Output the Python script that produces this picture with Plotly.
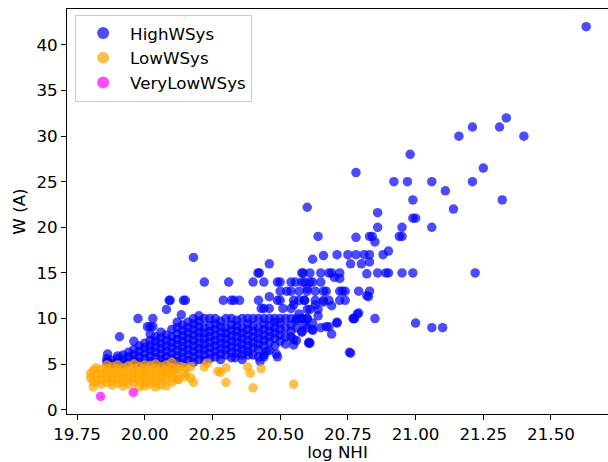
import plotly.graph_objects as go

# ---------------- data ----------------
# HighWSys: scattered points
high_x = [21.63, 21.335, 21.21, 21.31, 21.16, 21.40, 20.98, 21.25, 20.78, 20.92, 20.97, 21.06,
          21.21, 21.11, 20.99, 21.32, 20.60, 21.14, 20.86, 20.99, 21.00, 20.86, 20.95, 21.06,
          20.64, 20.78, 20.84, 20.83, 20.94, 20.95, 20.85, 21.22, 21.10, 21.00, 21.06, 20.76,
          20.99, 20.95, 20.90, 20.89, 20.86, 20.82, 20.85, 20.785, 20.775, 20.77, 20.83, 20.82,
          20.79, 20.90, 20.88, 20.83, 20.81, 20.78, 20.75, 20.71, 20.83, 20.80, 20.76, 20.66,
          20.62, 20.72, 20.72, 20.69, 20.68, 20.65, 20.61, 20.58, 20.70, 20.65, 20.62, 20.61,
          20.58, 20.74, 20.72, 20.74, 20.72, 20.67, 20.66, 20.63, 20.60, 20.68, 20.66, 20.63,
          20.59, 20.69, 20.64, 20.60, 20.58, 20.71, 20.68, 20.67, 20.65, 20.62, 20.69, 20.61,
          20.58,
          20.18, 20.46, 20.418, 20.423, 20.40, 20.44, 20.22, 20.31, 20.50, 20.585, 20.15, 20.29,
          20.32, 20.33, 20.35, 20.42, 20.46, 20.50, 20.50, 20.49, 20.43, 20.44, 20.46, 20.51,
          20.54, 20.55, 20.57, 20.59, 20.57, 20.54, 20.525, 20.54, 20.556, 20.59, 20.60, 20.49,
          19.863, 19.863, 19.907, 19.96, 19.975, 20.02, 20.03, 20.01, 20.03, 20.08, 20.094,
          20.143, 20.135, 20.09,
          20.383, 20.426, 20.44, 20.45, 20.49, 20.486, 20.55, 20.58, 20.605, 20.334,
          20.55, 20.57, 20.60, 20.61, 20.63, 20.64, 20.66, 20.62, 20.56, 20.59, 20.55, 20.73,
          20.79, 20.77, 20.71, 20.62, 20.607, 20.756, 20.826]
high_y = [42.0, 32.0, 31.0, 31.0, 30.0, 30.0, 28.0, 26.5, 26.0, 25.0, 25.0, 25.0,
          25.0, 24.0, 23.0, 23.0, 22.2, 22.0, 21.6, 21.0, 21.0, 20.0, 20.0, 20.0,
          19.0, 18.9, 19.0, 19.0, 19.0, 19.0, 18.4, 15.0, 9.0, 9.5, 9.0, 6.2,
          15.0, 15.0, 15.0, 15.0, 15.0, 14.9, 10.0, 10.5, 10.0, 10.0, 13.0, 12.5,
          13.0, 17.4, 17.0, 17.0, 17.0, 17.0, 17.0, 17.0, 16.2, 16.0, 16.0, 16.9,
          16.5, 14.4, 15.0, 15.0, 15.0, 15.0, 15.0, 15.0, 14.5, 14.0, 14.0, 14.0,
          14.0, 13.0, 13.0, 12.0, 12.0, 13.0, 13.0, 13.0, 13.0, 12.0, 12.0, 12.0,
          12.0, 11.4, 11.0, 11.0, 10.0, 9.5, 9.1, 9.1, 9.0, 8.7, 8.3, 7.3,
          8.5,
          16.7, 16.0, 15.0, 15.0, 14.0, 14.0, 14.0, 14.0, 14.0, 15.0, 12.0, 12.0,
          12.0, 12.0, 12.0, 12.0, 12.4, 13.0, 12.0, 12.0, 11.1, 11.1, 11.1, 11.1,
          11.1, 12.0, 12.0, 12.0, 13.0, 13.0, 13.0, 14.0, 14.0, 14.0, 13.3, 14.0,
          6.1, 5.3, 8.0, 7.5, 10.0, 9.1, 10.0, 9.1, 9.1, 11.0, 12.0,
          12.0, 10.4, 12.0,
          6.0, 5.3, 5.8, 6.4, 5.8, 6.1, 7.1, 8.6, 7.3, 5.7,
          11.5, 10.5, 10.0, 11.0, 11.5, 10.3, 11.8, 9.5, 9.8, 9.3, 7.7, 13.0,
          10.6, 10.0, 9.6, 8.8, 7.4, 6.3, 12.4]

# HighWSys: dense band, column by column (x of column, W values in it)
high_col_x = [19.86, 19.88, 19.90, 19.92, 19.94, 19.96, 19.98, 20.00, 20.02, 20.04, 20.06,
              20.08, 20.10, 20.12, 20.14, 20.16, 20.18, 20.20, 20.22, 20.24, 20.26, 20.28,
              20.30, 20.32, 20.34, 20.36, 20.38, 20.40, 20.42, 20.44, 20.46, 20.48, 20.50,
              20.52, 20.54, 20.56, 20.58, 20.60]
high_col_y = [
    [5.2, 5.6], [5.0, 5.4], [5.1, 5.6, 5.9], [5.0, 5.5, 6.0], [5.2, 5.8, 6.3],
    [5.0, 5.5, 6.0, 6.6], [5.2, 5.8, 6.4, 7.0], [5.0, 5.6, 6.2, 6.8, 7.3],
    [5.3, 5.9, 6.5, 7.0, 7.6, 8.3], [5.1, 5.7, 6.3, 6.9, 7.5, 8.0],
    [5.0, 5.5, 6.1, 6.7, 7.3, 7.9, 8.5], [5.2, 5.8, 6.4, 7.0, 7.6, 8.2],
    [5.0, 5.6, 6.2, 6.8, 7.4, 8.0, 8.8], [5.3, 5.9, 6.5, 7.1, 7.7, 8.3, 9.0, 9.6],
    [5.1, 5.7, 6.3, 6.9, 7.5, 8.1, 8.7, 9.3], [5.4, 6.0, 6.6, 7.2, 7.8, 8.4, 9.0, 9.6],
    [5.2, 5.8, 6.4, 7.0, 7.6, 8.2, 8.8, 9.4, 10.0],
    [5.5, 6.1, 6.7, 7.3, 7.9, 8.5, 9.1, 9.7, 10.3],
    [5.4, 6.0, 6.6, 7.2, 7.8, 8.4, 9.0, 10.0],
    [5.6, 6.2, 6.8, 7.4, 8.0, 8.6, 9.2, 10.0],
    [5.8, 6.4, 7.0, 7.6, 8.2, 8.8, 9.4, 10.0],
    [5.5, 6.1, 6.7, 7.3, 7.9, 8.5, 9.1, 9.7],
    [6.0, 6.6, 7.2, 7.8, 8.4, 9.0, 10.0],
    [5.7, 6.3, 6.9, 7.5, 8.1, 8.7, 9.3, 10.0],
    [6.2, 6.8, 7.4, 8.0, 8.6, 9.2, 9.8],
    [5.5, 6.0, 6.6, 7.2, 7.8, 8.4, 9.0, 10.0],
    [6.4, 7.0, 7.6, 8.2, 8.8, 9.4, 10.0],
    [6.0, 6.8, 7.4, 8.0, 8.6, 9.2, 10.0],
    [5.8, 6.6, 7.2, 7.8, 8.4, 9.0, 10.0],
    [6.0, 7.0, 7.6, 8.2, 8.8, 9.4, 10.0],
    [6.5, 7.4, 8.0, 8.6, 9.2, 10.0],
    [7.0, 7.8, 8.4, 9.0, 9.6, 10.0],
    [7.5, 8.2, 8.8, 9.5, 10.0],
    [7.2, 8.0, 9.0, 10.0],
    [8.0, 8.6, 9.3, 10.0],
    [7.6, 9.0, 10.0],
    [10.0],
    [9.0, 10.0],
]

# LowWSys: scattered points
low_x = [20.13, 20.15, 20.15, 20.15, 20.17, 20.17, 20.18, 20.22, 20.23, 20.27, 20.28,
         20.30, 20.30, 20.38, 20.39, 20.40, 20.43, 20.55, 20.125]
low_y = [4.75, 3.6, 4.0, 4.6, 3.5, 4.7, 3.0, 4.7, 5.1, 4.2, 4.1,
         4.6, 3.0, 4.7, 4.0, 2.4, 4.5, 2.8, 3.3]

# LowWSys: dense cluster, column by column
low_col_x = [19.80, 19.81, 19.82, 19.84, 19.86, 19.88, 19.90, 19.92, 19.94, 19.96, 19.98,
             20.00, 20.02, 20.04, 20.06, 20.08, 20.10, 20.12]
low_col_y = [
    [3.5, 4.0], [2.5, 3.0, 4.3], [3.2, 3.8, 4.6], [2.8, 3.3, 3.9, 4.4],
    [3.0, 3.5, 4.0, 4.5, 4.9], [2.7, 3.2, 3.7, 4.2, 4.7], [2.9, 3.4, 3.9, 4.4, 4.9],
    [2.6, 3.1, 3.6, 4.1, 4.6], [2.8, 3.3, 3.8, 4.3, 4.8], [3.0, 3.5, 4.0, 4.5, 5.0],
    [2.5, 3.2, 3.7, 4.2, 4.7], [2.6, 3.0, 3.5, 4.0, 4.5, 4.9], [2.8, 3.3, 3.8, 4.3, 4.8],
    [2.5, 3.0, 3.5, 4.0, 4.5, 5.0], [2.7, 3.2, 3.7, 4.2, 4.7], [2.6, 3.4, 3.9, 4.4, 4.9],
    [3.0, 3.6, 4.1, 4.6, 5.2], [3.3, 3.9, 4.5],
]

# VeryLowWSys
vlow_x = [19.837, 19.958]
vlow_y = [1.46, 1.9]

# ---------------- assemble ----------------
hx = list(high_x)
hy = list(high_y)
for cx, ys in zip(high_col_x, high_col_y):
    for v in ys:
        hx.append(cx)
        hy.append(v)

lx = list(low_x)
ly = list(low_y)
for cx, ys in zip(low_col_x, low_col_y):
    for v in ys:
        lx.append(cx)
        ly.append(v)

FONT = "DejaVu Sans"
FS = 16.7
msize = 9.5

fig = go.Figure()
fig.add_trace(go.Scatter(x=hx, y=hy, mode="markers", name="HighWSys",
                         marker=dict(color="blue", size=msize, opacity=0.7, line=dict(width=0))))
fig.add_trace(go.Scatter(x=lx, y=ly, mode="markers", name="LowWSys",
                         marker=dict(color="orange", size=msize, opacity=0.7, line=dict(width=0))))
fig.add_trace(go.Scatter(x=vlow_x, y=vlow_y, mode="markers", name="VeryLowWSys",
                         marker=dict(color="magenta", size=msize, opacity=0.7, line=dict(width=0))))

fig.update_layout(
    width=608, height=462,
    margin=dict(l=67, r=0, t=9, b=48),
    paper_bgcolor="white", plot_bgcolor="white",
    font=dict(family=FONT, size=FS, color="black"),
    showlegend=True,
    legend=dict(x=0.015, y=0.986, xanchor="left", yanchor="top",
                bgcolor="rgba(255,255,255,0.8)", bordercolor="#cccccc", borderwidth=1,
                font=dict(size=FS), itemsizing="constant", itemwidth=44),
)
fig.update_xaxes(range=[19.713, 21.7105], tickvals=[19.75, 20.0, 20.25, 20.5, 20.75, 21.0, 21.25, 21.5],
                 ticktext=["19.75", "20.00", "20.25", "20.50", "20.75", "21.00", "21.25", "21.50"],
                 showline=True, linecolor="black", linewidth=1.1, mirror=True,
                 ticks="outside", ticklen=5, tickwidth=1.1, tickcolor="black",
                 tickfont=dict(size=FS),
                 showgrid=False, zeroline=False,
                 title=dict(text="log NHI", standoff=1, font=dict(size=FS)))
fig.update_yaxes(range=[-0.47, 43.94], tickvals=[0, 5, 10, 15, 20, 25, 30, 35, 40],
                 showline=True, linecolor="black", linewidth=1.1, mirror=False,
                 ticks="outside", ticklen=5, tickwidth=1.1, tickcolor="black",
                 tickfont=dict(size=FS),
                 showgrid=False, zeroline=False,
                 title=dict(text="W (A)", standoff=6, font=dict(size=FS)))

fig.write_html("out.html")
